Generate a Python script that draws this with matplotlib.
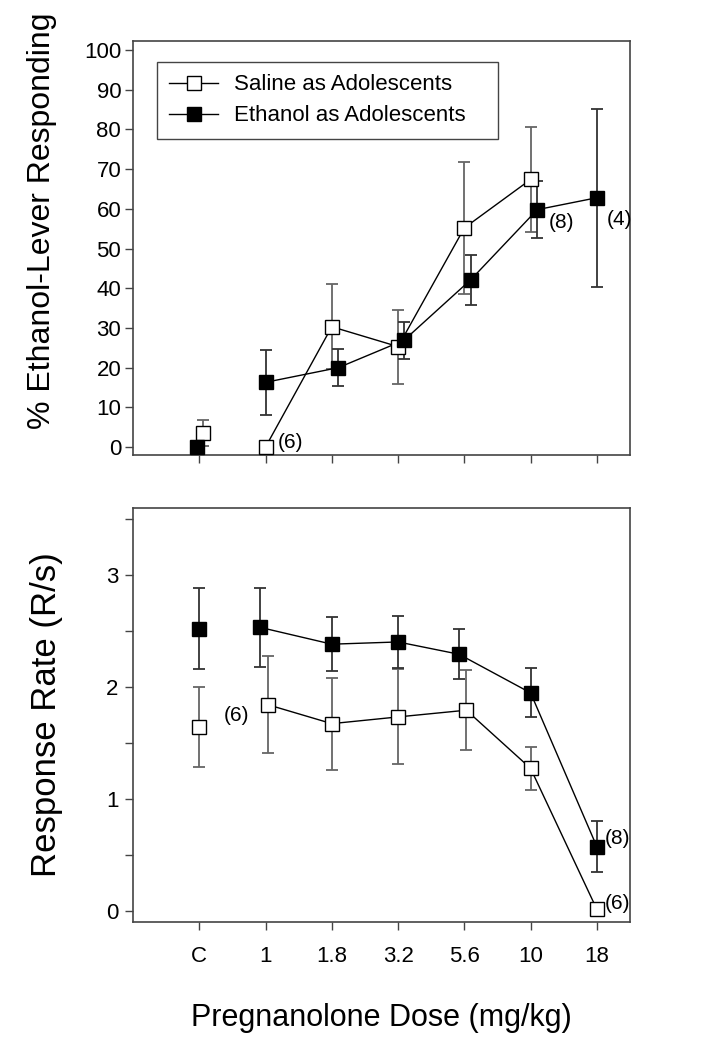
import matplotlib
matplotlib.use('Agg')
import matplotlib.pyplot as plt
from matplotlib.lines import Line2D
from matplotlib.ticker import MultipleLocator
import numpy as np

plt.rcParams['font.family'] = ['Liberation Sans', 'DejaVu Sans']

# ---------------- data ----------------
doses = ['C', '1', '1.8', '3.2', '5.6', '10', '18']

# % ethanol-lever responding (top panel)
pct_saline = [3.6, 0.0, 30.3, 25.3, 55.2, 67.4]
pct_saline_err = [3.3, 0.0, 10.7, 9.3, 16.6, 13.3]
pct_ethanol = [0.0, 16.3, 20.0, 26.9, 42.2, 59.8, 62.8]
pct_ethanol_err = [0.5, 8.2, 4.6, 4.6, 6.3, 7.2, 22.4]

# response rate (bottom panel)
rate_saline = [1.64, 1.84, 1.67, 1.73, 1.79, 1.27, 0.01]
rate_saline_err = [0.36, 0.435, 0.41, 0.425, 0.36, 0.19, 0.0]
rate_ethanol = [2.52, 2.53, 2.38, 2.40, 2.29, 1.945, 0.57]
rate_ethanol_err = [0.365, 0.355, 0.24, 0.235, 0.225, 0.22, 0.23]

# small horizontal jitter used in the original figure to separate symbols
pct_saline_jit = [0.05, 0, 0, 0, 0, 0]
pct_ethanol_jit = [-0.03, 0, 0.1, 0.09, 0.1, 0.1, 0]
rate_saline_jit = [0, 0.03, 0, 0, 0.03, 0, 0]
rate_ethanol_jit = [0, -0.08, 0, 0, -0.08, 0, 0]

labels = ['Saline as Adolescents', 'Ethanol as Adolescents']

# ---------------- style ----------------
SPINE = '#444444'
ECOL_S = '#666666'
ECOL_E = '#333333'
MS = 10
TICKFS = 16

fig = plt.figure(figsize=(7.28, 10.5), dpi=100)
ax1 = fig.add_axes([0.1827, 0.5667, 0.6827, 0.3943])
ax2 = fig.add_axes([0.1827, 0.1222, 0.6827, 0.3943])

x = np.arange(len(doses))


def draw(ax, yS, eS, jS, yE, eE, jE):
    xs = x[:len(yS)] + np.array(jS)
    xe = x[:len(yE)] + np.array(jE)
    ax.errorbar(xs, yS, yerr=eS, fmt='none', ecolor=ECOL_S, elinewidth=1.3,
                capsize=4, capthick=1.3, zorder=2)
    ax.errorbar(xe, yE, yerr=eE, fmt='none', ecolor=ECOL_E, elinewidth=1.3,
                capsize=4, capthick=1.3, zorder=2)
    ax.plot(xs[1:], yS[1:], color='black', lw=1, zorder=3)
    ax.plot(xe[1:], yE[1:], color='black', lw=1, zorder=3)
    ax.plot(xs, yS, ls='none', marker='s', ms=MS, mfc='white', mec='black',
            mew=1, zorder=4)
    ax.plot(xe, yE, ls='none', marker='s', ms=MS, mfc='black', mec='black',
            mew=1, zorder=5)
    return xs, xe


xs1, xe1 = draw(ax1, pct_saline, pct_saline_err, pct_saline_jit,
                pct_ethanol, pct_ethanol_err, pct_ethanol_jit)
xs2, xe2 = draw(ax2, rate_saline, rate_saline_err, rate_saline_jit,
                rate_ethanol, rate_ethanol_err, rate_ethanol_jit)

for ax in (ax1, ax2):
    ax.set_xlim(-1, 6.5)
    ax.set_xticks(x)
    for sp in ax.spines.values():
        sp.set_color(SPINE)
        sp.set_linewidth(1.2)
    ax.tick_params(axis='both', direction='out', length=5.5, width=1,
                   color=SPINE, labelsize=TICKFS)
    ax.tick_params(axis='y', which='minor', direction='out', length=5.5,
                   width=1, color=SPINE)

ax1.set_ylim(-2, 102.3)
ax1.set_yticks(np.arange(0, 101, 10))
ax1.set_xticklabels([])
ax1.tick_params(axis='y', pad=3)

ax2.set_ylim(-0.1, 3.6)
ax2.set_yticks([0, 1, 2, 3])
ax2.yaxis.set_minor_locator(MultipleLocator(0.5))
ax2.set_xticklabels(doses)
ax2.tick_params(axis='x', pad=12)
ax2.tick_params(axis='y', pad=5)

ax1.set_ylabel('% Ethanol-Lever Responding', fontsize=23)
ax1.yaxis.set_label_coords(-0.152, 0.565)
ax2.set_ylabel('Response Rate (R/s)', fontsize=25)
ax2.yaxis.set_label_coords(-0.14, 0.5)
ax2.set_xlabel('Pregnanolone Dose (mg/kg)', fontsize=22, labelpad=26)

# n annotations
ANN = 15
ax1.annotate('(6)', (xs1[1], pct_saline[1]), xytext=(9, 3),
             textcoords='offset points', fontsize=ANN, va='center', ha='left')
ax1.annotate('(8)', (xe1[5], pct_ethanol[5]), xytext=(8, -9),
             textcoords='offset points', fontsize=ANN, va='center', ha='left')
ax1.annotate('(4)', (xe1[6], pct_ethanol[6]), xytext=(7, -16),
             textcoords='offset points', fontsize=ANN, va='center', ha='left')
ax2.annotate('(6)', (xs2[1], rate_saline[1]), xytext=(-13, -8),
             textcoords='offset points', fontsize=ANN, va='center', ha='right')
ax2.annotate('(8)', (xe2[6], rate_ethanol[6]), xytext=(6, 6),
             textcoords='offset points', fontsize=ANN, va='center', ha='left')
ax2.annotate('(6)', (xs2[6], rate_saline[6]), xytext=(6, 4),
             textcoords='offset points', fontsize=ANN, va='center', ha='left')

handles = [
    Line2D([], [], color='black', lw=1, marker='s', ms=MS, mfc='white',
           mec='black'),
    Line2D([], [], color='black', lw=1, marker='s', ms=MS, mfc='black',
           mec='black'),
]
leg = ax1.legend(handles, labels, loc='upper left',
                 bbox_to_anchor=(0.048, 0.768, 0.686, 0.181), mode='expand',
                 borderaxespad=0,
                 fontsize=16, frameon=True, fancybox=False, framealpha=1,
                 edgecolor=SPINE, handlelength=2.2, handletextpad=0.7,
                 borderpad=0.55, labelspacing=0.45)
leg.get_frame().set_linewidth(1.0)

fig.savefig('out.png', dpi=100)
